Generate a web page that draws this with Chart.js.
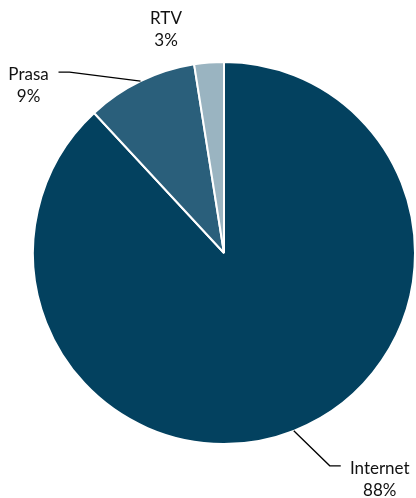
<!DOCTYPE html>
<html><head><meta charset="utf-8">
<script src="https://cdn.jsdelivr.net/npm/chart.js@4"></script>
<style>html,body{margin:0;padding:0;background:#fff}#wrap{width:416px;height:498px}</style>
</head><body><div id="wrap"><canvas id="c" width="416" height="498"></canvas></div>
<script>
const categories = ['Internet', 'Prasa', 'RTV'];
const values = [88.1, 9.4, 2.5];
const valueLabels = ['88%', '9%', '3%'];
const colors = ['#03415F', '#2A5F7B', '#9AB4C1'];

// label placement relative to slice outer mid-point
const labelCfg = [
  {dx: 86, dy: 49, leader: [[36, 35], [47, 35]]},
  {dx: -112, dy: 4, leader: [[-71, -9], [-82, -9]]},
  {dx: -43, dy: -33, leader: null}
];

const labelPlugin = {
  id: 'pieLabels',
  afterDatasetsDraw(chart) {
    const ctx = chart.ctx;
    const meta = chart.getDatasetMeta(0);
    ctx.save();
    ctx.font = '17px Lato, "Open Sans", sans-serif';
    ctx.fillStyle = '#111';
    ctx.textAlign = 'center';
    ctx.textBaseline = 'middle';
    meta.data.forEach((arc, i) => {
      const mid = (arc.startAngle + arc.endAngle) / 2;
      const r = arc.outerRadius;
      const ax = arc.x + Math.cos(mid) * r;
      const ay = arc.y + Math.sin(mid) * r;
      const cfg = labelCfg[i];
      if (cfg.leader) {
        ctx.beginPath();
        ctx.strokeStyle = '#000';
        ctx.lineWidth = 1.3;
        ctx.moveTo(ax, ay);
        cfg.leader.forEach(p => ctx.lineTo(ax + p[0], ay + p[1]));
        ctx.stroke();
      }
      const tx = ax + cfg.dx, ty = ay + cfg.dy;
      ctx.fillText(categories[i], tx, ty - 11);
      ctx.fillText(valueLabels[i], tx, ty + 11);
    });
    ctx.restore();
  }
};

new Chart(document.getElementById('c'), {
  type: 'pie',
  data: {
    labels: categories,
    datasets: [{
      data: values,
      backgroundColor: colors,
      borderColor: '#ffffff',
      borderWidth: 2
    }]
  },
  options: {
    responsive: false,
    animation: false,
    layout: {padding: {left: 32, right: 0, top: 61, bottom: 53}},
    plugins: {legend: {display: false}, tooltip: {enabled: false}}
  },
  plugins: [labelPlugin]
});
</script></body></html>
